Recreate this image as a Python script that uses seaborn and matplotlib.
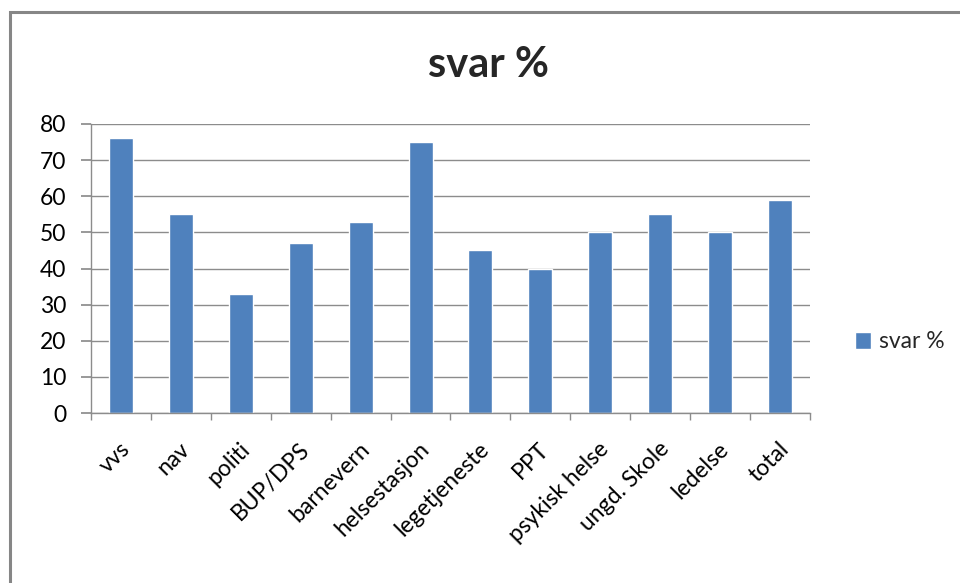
import matplotlib
matplotlib.use("Agg")
import matplotlib.pyplot as plt
import seaborn as sns
import pandas as pd
from matplotlib.patches import Rectangle
from matplotlib.ticker import FixedLocator

kategorier = ["vvs", "nav", "politi", "BUP/DPS", "barnevern", "helsestasjon",
              "legetjeneste", "PPT", "psykisk helse", "ungd. Skole", "ledelse", "total"]
svar = [76, 55, 33, 47, 53, 75, 45, 40, 50, 55, 50, 59]
serie = "svar %"

df = pd.DataFrame({"kategori": kategorier, "svar": svar})

sns.set_theme(style="white")
plt.rcParams["font.family"] = ["Lato", "DejaVu Sans"]

fig = plt.figure(figsize=(9.6, 5.83), dpi=100)
ax = fig.add_axes([91/960, 1-413/583, (810-91)/960, (413-124)/583])

sns.barplot(data=df, x="kategori", y="svar", color="#4F81BD", width=0.4,
            saturation=1, ax=ax, label=serie)
handles, labels = ax.get_legend_handles_labels()
if ax.get_legend() is not None:
    ax.get_legend().remove()

ax.set_ylim(0, 80)
ax.set_xlim(-0.5, len(kategorier)-0.5)
ax.set_yticks(range(0, 81, 10))
ax.yaxis.grid(True, color="#8c8c8c", linewidth=1)
ax.set_axisbelow(True)
ax.set_xlabel("")
ax.set_ylabel("")

for s in ["top", "right"]:
    ax.spines[s].set_visible(False)
for s in ["left", "bottom"]:
    ax.spines[s].set_color("#8c8c8c")
    ax.spines[s].set_linewidth(1)

ax.tick_params(axis="y", which="major", length=7, color="#8c8c8c", labelsize=16.5,
               left=True, pad=11, labelcolor="black")
ax.tick_params(axis="x", which="major", length=0, labelsize=16.5, pad=6, labelcolor="black")
ax.xaxis.set_minor_locator(FixedLocator([i - 0.5 for i in range(len(kategorier)+1)]))
ax.tick_params(axis="x", which="minor", length=5, color="#8c8c8c", bottom=True)
plt.setp(ax.get_xticklabels(), rotation=45, ha="right", rotation_mode="anchor")
for lbl in ax.get_xticklabels():
    lbl.set_transform(lbl.get_transform() + matplotlib.transforms.ScaledTranslation(-0.02, -0.17, fig.dpi_scale_trans))

fig.suptitle(serie, x=489/960, y=1-65/583, va="center", fontsize=30, fontweight="bold")

fig.legend(handles, labels, loc="center left", bbox_to_anchor=(834/960, 1-342/583),
           frameon=False, fontsize=16.5, handlelength=0.7, handleheight=0.7,
           handletextpad=0.35)

fig.patches.append(Rectangle((9.5/960, -0.1), 1.2, 1.1 - 12.5/583,
                             transform=fig.transFigure, fill=False,
                             edgecolor="#868686", linewidth=2.2, zorder=10))

fig.savefig("out.png", dpi=100)
